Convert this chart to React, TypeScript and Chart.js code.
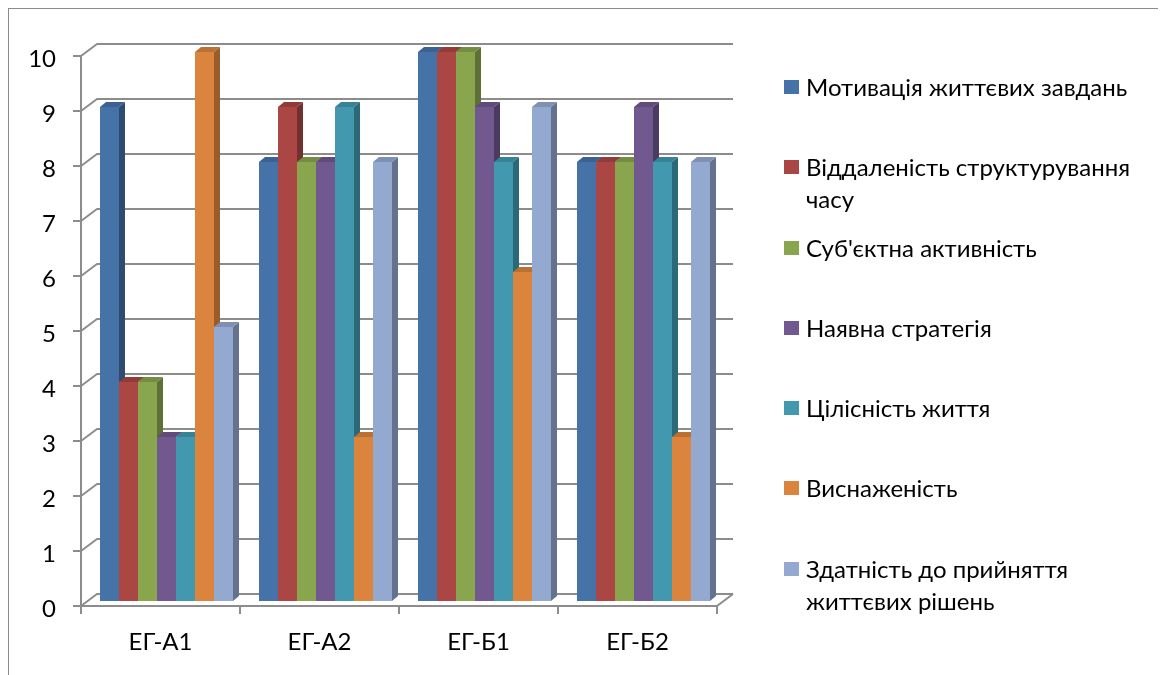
import React, { useEffect, useRef } from "react";
import { Chart, registerables } from "chart.js";

Chart.register(...registerables);

// Groups on the category axis
const groups = ["ЕГ-А1", "ЕГ-А2", "ЕГ-Б1", "ЕГ-Б2"];

// Series names (legend order)
const seriesNames = [
  "Мотивація життєвих завдань",
  "Віддаленість структурування часу",
  "Суб'єктна активність",
  "Наявна стратегія",
  "Цілісність життя",
  "Виснаженість",
  "Здатність до прийняття життєвих рішень",
];

// Scores per group
const motivation = [9, 8, 10, 8];
const remoteness = [4, 9, 10, 8];
const activity = [4, 8, 10, 8];
const strategy = [3, 8, 9, 9];
const integrity = [3, 9, 8, 8];
const exhaustion = [10, 3, 6, 3];
const decisions = [5, 8, 9, 8];

const seriesValues = [motivation, remoteness, activity, strategy, integrity, exhaustion, decisions];

// Value axis ticks
const valueTicks = [0, 1, 2, 3, 4, 5, 6, 7, 8, 9, 10];

// Face colours: front, right side, top
const frontColors = ["#4572A7", "#AA4643", "#89A54E", "#71588F", "#4198AF", "#DB843D", "#93A9CF"];
const sideColors = ["#2E4C72", "#74302E", "#5D7035", "#4C3B61", "#2B6878", "#9A5C2A", "#63738F"];
const topColors = ["#3B6293", "#913C39", "#758D42", "#614B7A", "#378296", "#BB7134", "#7E91B2"];

const FONT = "Lato, 'Open Sans', sans-serif";
const FONT_SIZE = 24;
const GRID = "#8c8c8c";

// Depth of the walls and of each column
const WALL_DX = 16;
const WALL_DY = 12;
const BAR_SHIFT_X = 6;
const BAR_SHIFT_Y = 4;
const BAR_DX = 6;
const BAR_DY = 5;

const boxes3d = {
  id: "boxes3d",
  beforeDatasetsDraw(chart: any) {
    const { ctx, chartArea: a, scales } = chart;
    const y = scales.y;
    ctx.save();
    ctx.strokeStyle = GRID;
    ctx.lineWidth = 2;
    ctx.lineJoin = "round";
    // back wall grid lines and left wall diagonals
    for (const v of valueTicks) {
      const py = y.getPixelForValue(v);
      ctx.beginPath();
      ctx.moveTo(a.left, py);
      ctx.lineTo(a.left + WALL_DX, py - WALL_DY);
      ctx.lineTo(a.right + WALL_DX, py - WALL_DY);
      ctx.stroke();
    }
    // floor right edge
    ctx.beginPath();
    ctx.moveTo(a.right, a.bottom);
    ctx.lineTo(a.right + WALL_DX, a.bottom - WALL_DY);
    ctx.stroke();

    // columns, left to right inside each group
    chart.data.datasets.forEach((ds: any, di: number) => {
      const meta = chart.getDatasetMeta(di);
      meta.data.forEach((bar: any) => {
        const p = bar.getProps(["x", "y", "base", "width"], true);
        const l = p.x - p.width / 2 + BAR_SHIFT_X;
        const r = p.x + p.width / 2 + BAR_SHIFT_X;
        const t = p.y - BAR_SHIFT_Y;
        const b = p.base - BAR_SHIFT_Y;
        ctx.fillStyle = frontColors[di];
        ctx.fillRect(l, t, r - l, b - t);
        ctx.fillStyle = sideColors[di];
        ctx.beginPath();
        ctx.moveTo(r, t);
        ctx.lineTo(r + BAR_DX, t - BAR_DY);
        ctx.lineTo(r + BAR_DX, b - BAR_DY);
        ctx.lineTo(r, b);
        ctx.closePath();
        ctx.fill();
        ctx.fillStyle = topColors[di];
        ctx.beginPath();
        ctx.moveTo(l, t);
        ctx.lineTo(l + BAR_DX, t - BAR_DY);
        ctx.lineTo(r + BAR_DX, t - BAR_DY);
        ctx.lineTo(r, t);
        ctx.closePath();
        ctx.fill();
      });
    });
    ctx.restore();
    return false;
  },
};

const CANVAS_W = 1150;
const CANVAS_H = 666;
const AREA_LEFT = 72;
const AREA_RIGHT = 708;
const AREA_TOP = 47;
const AREA_BOTTOM = 597;

export default function App() {
  const canvasRef = useRef<HTMLCanvasElement | null>(null);

  useEffect(() => {
    const canvas = canvasRef.current;
    if (!canvas) return;
    const chart = new Chart(canvas, {
      type: "bar",
      data: {
        labels: groups,
        datasets: seriesNames.map((name, i) => ({
          label: name,
          data: seriesValues[i],
          backgroundColor: frontColors[i],
          categoryPercentage: 133 / 159,
          barPercentage: 1,
        })),
      },
      options: {
        responsive: false,
        maintainAspectRatio: false,
        animation: false,
        layout: {
          padding: { left: 0, top: AREA_TOP, right: CANVAS_W - AREA_RIGHT, bottom: 0 },
        },
        plugins: {
          legend: { display: false },
          tooltip: { enabled: false },
        },
        scales: {
          x: {
            grid: {
              offset: true,
              drawOnChartArea: false,
              tickLength: 8,
              color: GRID,
              lineWidth: 2,
            },
            border: { display: true, color: GRID, width: 2 },
            ticks: {
              color: "#000",
              font: { family: FONT, size: FONT_SIZE },
              padding: 14,
            },
            afterFit: (scale: any) => {
              scale.height = CANVAS_H - AREA_BOTTOM;
            },
          },
          y: {
            min: 0,
            max: 10,
            afterBuildTicks: (scale: any) => {
              scale.ticks = valueTicks.map((v) => ({ value: v }));
            },
            grid: {
              drawOnChartArea: false,
              tickLength: 8,
              color: GRID,
              lineWidth: 2,
            },
            border: { display: true, color: GRID, width: 2 },
            ticks: {
              color: "#000",
              font: { family: FONT, size: FONT_SIZE },
              padding: 17,
              labelOffset: 3,
            },
            afterFit: (scale: any) => {
              scale.width = AREA_LEFT;
            },
          },
        },
      },
      plugins: [boxes3d],
    });
    return () => chart.destroy();
  }, []);

  return (
    <div
      style={{
        position: "relative",
        boxSizing: "border-box",
        width: 1153,
        height: 700,
        borderTop: "1px solid #8c8c8c",
        borderLeft: "1px solid #8c8c8c",
        borderRight: "2px solid #8c8c8c",
        background: "#fff",
      }}
    >
      <canvas
        ref={canvasRef}
        width={CANVAS_W}
        height={CANVAS_H}
        style={{ position: "absolute", left: 0, top: 0, width: CANVAS_W, height: CANVAS_H }}
      />
      <div
        style={{
          position: "absolute",
          left: 775,
          top: 62,
          width: 370,
          fontFamily: FONT,
          fontSize: FONT_SIZE,
          color: "#000",
        }}
      >
        {seriesNames.map((name, i) => (
          <div key={name} style={{ position: "relative", height: 80.3, paddingLeft: 22 }}>
            <span
              style={{
                position: "absolute",
                left: 0,
                top: 9,
                width: 15,
                height: 14,
                background: frontColors[i],
              }}
            />
            <div style={{ lineHeight: "32px", width: 345 }}>{name}</div>
          </div>
        ))}
      </div>
    </div>
  );
}
